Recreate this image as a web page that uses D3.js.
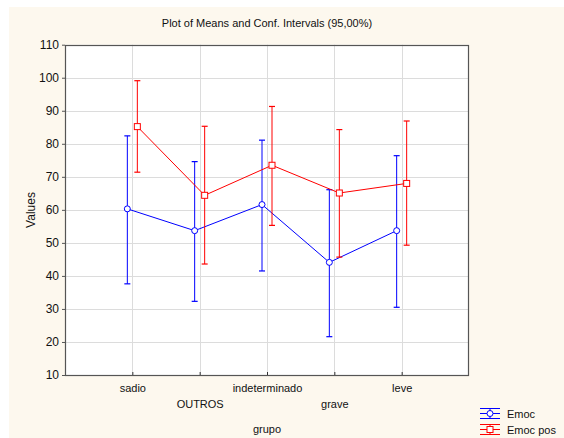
<!DOCTYPE html>
<html>
<head>
<meta charset="utf-8">
<script src="https://cdn.jsdelivr.net/npm/d3@7"></script>
<style>
  html, body { margin: 0; padding: 0; background: #ffffff; }
  svg { display: block; font-family: "Liberation Sans", Arial, sans-serif; }
</style>
</head>
<body>
<svg id="chart" width="564" height="438"></svg>
<script>
// Groups along the x axis
const categories = ["sadio", "OUTROS", "indeterminado", "grave", "leve"];

// Emoc: means and 95% confidence limits
const emocMean  = [60.3, 53.7, 61.6, 44.1, 53.7];
const emocLow   = [37.6, 32.3, 41.5, 21.6, 30.5];
const emocHigh  = [82.4, 74.6, 81.1, 66.1, 76.4];

// Emoc pos: means and 95% confidence limits
const posMean   = [85.2, 64.4, 73.5, 65.1, 68.0];
const posLow    = [71.4, 43.6, 55.3, 45.7, 49.3];
const posHigh   = [99.1, 85.3, 91.3, 84.3, 86.9];

const yTicks = [10, 20, 30, 40, 50, 60, 70, 80, 90, 100, 110];
const seriesNames = ["Emoc", "Emoc pos"];

const svg = d3.select("#chart");

// cream page background
svg.append("rect").attr("x", 9).attr("y", 7).attr("width", 555).attr("height", 431)
  .attr("fill", "#fdf8ee");

const plot = { left: 65, top: 44.7, right: 469, bottom: 375 };

const x = d3.scaleLinear().domain([0, categories.length + 1]).range([plot.left, plot.right]);
const y = d3.scaleLinear().domain([10, 110]).range([plot.bottom, plot.top]);

// plot area
svg.append("rect")
  .attr("x", plot.left).attr("y", plot.top)
  .attr("width", plot.right - plot.left).attr("height", plot.bottom - plot.top)
  .attr("fill", "#ffffff");

// grid
const grid = svg.append("g").attr("stroke", "#dcdcdc").attr("stroke-width", 1);
grid.selectAll("line.h").data(yTicks.slice(1, -1)).join("line")
  .attr("x1", plot.left).attr("x2", plot.right)
  .attr("y1", d => Math.round(y(d)) + 0.5).attr("y2", d => Math.round(y(d)) + 0.5);
grid.selectAll("line.v").data(categories).join("line")
  .attr("x1", (d, i) => Math.round(x(i + 1)) + 0.5).attr("x2", (d, i) => Math.round(x(i + 1)) + 0.5)
  .attr("y1", plot.top).attr("y2", plot.bottom);

// frame
svg.append("rect")
  .attr("x", plot.left + 0.5).attr("y", Math.round(plot.top) + 0.5)
  .attr("width", plot.right - plot.left - 1).attr("height", plot.bottom - Math.round(plot.top))
  .attr("fill", "none").attr("stroke", "#555555").attr("stroke-width", 1.2);

// y axis
const yAxis = d3.axisLeft(y).tickValues(yTicks).tickSize(3).tickPadding(3).tickFormat(d3.format("d"));
const gy = svg.append("g").attr("transform", `translate(${plot.left},0)`).call(yAxis);
gy.select(".domain").remove();
gy.selectAll(".tick line").attr("stroke", "#555555");
gy.selectAll(".tick text").attr("font-size", 12).attr("fill", "#111")
  .attr("font-family", "Liberation Sans, Arial, sans-serif");

// x axis: ticks pointing inward, labels staggered on two rows
const xAxis = d3.axisBottom(x).tickValues(categories.map((d, i) => i + 1))
  .tickSize(-3).tickFormat(v => categories[v - 1]);
const gx = svg.append("g").attr("transform", `translate(0,${plot.bottom})`).call(xAxis);
gx.select(".domain").remove();
gx.selectAll(".tick line").attr("stroke", "#333333");
gx.selectAll(".tick text")
  .attr("font-size", 11).attr("fill", "#111")
  .attr("font-family", "Liberation Sans, Arial, sans-serif")
  .attr("dy", null)
  .attr("y", (v) => (v % 2 === 1 ? 17 : 33));

// titles
svg.append("text").attr("x", 267).attr("y", 27).attr("text-anchor", "middle")
  .attr("font-size", 11).attr("fill", "#111")
  .text("Plot of Means and Conf. Intervals (95,00%)");
svg.append("text").attr("x", 267).attr("y", 433).attr("text-anchor", "middle")
  .attr("font-size", 11).attr("fill", "#111").text("grupo");
svg.append("text").attr("transform", "translate(35,210) rotate(-90)")
  .attr("text-anchor", "middle").attr("font-size", 12).attr("fill", "#111").text("Values");

// series
const series = [
  { name: seriesNames[0], mean: emocMean, low: emocLow, high: emocHigh, color: "#0000ff", dx: -5, marker: "circle" },
  { name: seriesNames[1], mean: posMean, low: posLow, high: posHigh, color: "#ff0000", dx: 5, marker: "square" }
];

function drawMarker(g, kind, cx, cy, color) {
  if (kind === "circle") {
    g.append("circle").attr("cx", cx).attr("cy", cy).attr("r", 3)
      .attr("fill", "#fff").attr("stroke", color).attr("stroke-width", 1);
  } else {
    g.append("rect").attr("x", cx - 3).attr("y", cy - 3).attr("width", 6).attr("height", 6)
      .attr("fill", "#fff").attr("stroke", color).attr("stroke-width", 1);
  }
}

series.forEach(s => {
  const g = svg.append("g");
  const px = i => x(i + 1) + s.dx;
  // whiskers
  s.mean.forEach((m, i) => {
    g.append("line").attr("x1", px(i)).attr("x2", px(i))
      .attr("y1", y(s.low[i])).attr("y2", y(s.high[i]))
      .attr("stroke", s.color).attr("stroke-width", 1);
    [s.low[i], s.high[i]].forEach(v => {
      g.append("line").attr("x1", px(i) - 3).attr("x2", px(i) + 3)
        .attr("y1", y(v)).attr("y2", y(v))
        .attr("stroke", s.color).attr("stroke-width", 1.2);
    });
  });
  // connecting line of means
  const line = d3.line().x((d, i) => px(i)).y(d => y(d));
  g.append("path").datum(s.mean).attr("d", line)
    .attr("fill", "none").attr("stroke", s.color).attr("stroke-width", 1);
  s.mean.forEach((m, i) => drawMarker(g, s.marker, px(i), y(m), s.color));
});

// legend
series.forEach((s, k) => {
  const cx = 490, cy = 413.5 + k * 16;
  const g = svg.append("g");
  [-5, 0, 5].forEach(o => {
    g.append("line").attr("x1", cx - 10).attr("x2", cx + 10)
      .attr("y1", cy + o).attr("y2", cy + o).attr("stroke", s.color).attr("stroke-width", 1);
  });
  g.append("line").attr("x1", cx).attr("x2", cx).attr("y1", cy - 5).attr("y2", cy + 5)
    .attr("stroke", s.color).attr("stroke-width", 1);
  drawMarker(g, s.marker, cx, cy, s.color);
  g.append("text").attr("x", 507).attr("y", cy + 4).attr("font-size", 11).attr("fill", "#111")
    .text(s.name);
});
</script>
</body>
</html>
